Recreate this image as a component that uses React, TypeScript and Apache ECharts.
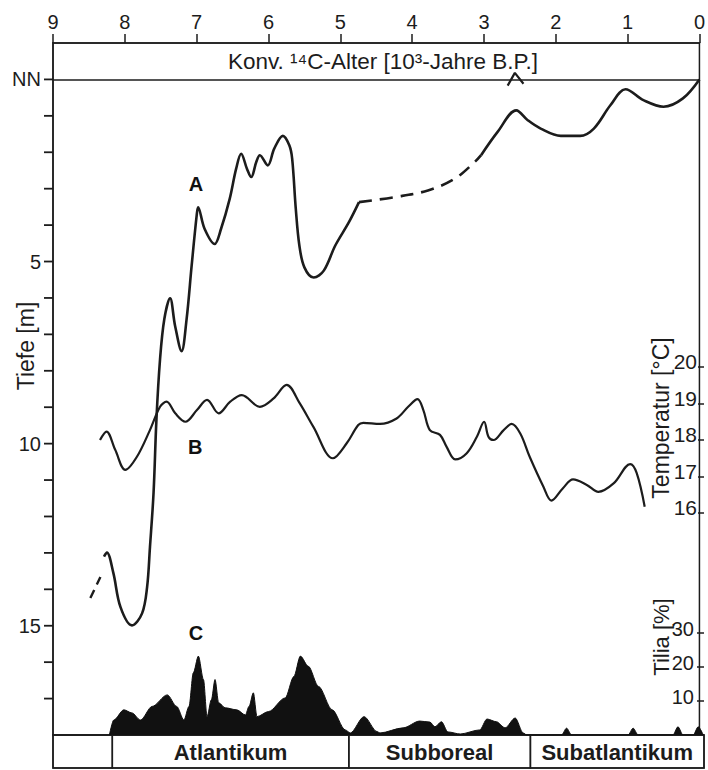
import React, { useEffect, useRef } from "react";
import * as echarts from "echarts";

// ---------- data (age in 10^3 years B.P., depth in m, temperature in °C, Tilia in %) ----------
const ageTickValues = [9, 8, 7, 6, 5, 4, 3, 2, 1, 0];
const depthLabelMap: Record<number, string> = { 0: "NN", 5: "5", 10: "10", 15: "15" };
const depthTickValues = [0, 1, 2, 3, 4, 5, 6, 7, 8, 9, 10, 11, 12, 13, 14, 15, 16, 17];
const tempTickValues = [16, 17, 18, 19, 20];
const tiliaTickValues = [10, 20, 30];

// Curve A: sea level (depth below NN)
const curveA_dashedOld: number[][] = [
  [8.48, 14.24], [8.34, 13.66],
];
const curveA_solidOld: number[][] = [
  [8.29, 13.1], [8.25, 12.99], [8.16, 13.55], [8.06, 14.49], [7.9, 14.99], [7.76, 14.66],
  [7.69, 13.94], [7.65, 12.84], [7.6, 11.35], [7.56, 9.34], [7.51, 7.69], [7.45, 6.58],
  [7.37, 6.01], [7.3, 6.77], [7.21, 7.46], [7.14, 6.58], [7.07, 5.12], [7.0, 3.74],
  [6.98, 3.51], [6.89, 4.1], [6.75, 4.52], [6.66, 4.1], [6.54, 3.28], [6.45, 2.45],
  [6.38, 2.04], [6.3, 2.45], [6.24, 2.68], [6.17, 2.27], [6.12, 2.08], [6.01, 2.36],
  [5.92, 1.9], [5.8, 1.55], [5.71, 1.81], [5.67, 2.18], [5.62, 3.55], [5.57, 4.56],
  [5.5, 5.16], [5.37, 5.44], [5.23, 5.25], [5.07, 4.56], [4.88, 3.92], [4.74, 3.37],
];
const curveA_dashedMid: number[][] = [
  [4.74, 3.37], [4.24, 3.23], [3.78, 3.05], [3.41, 2.73], [3.13, 2.27], [3.04, 2.08],
];
const curveA_solidYoung: number[][] = [
  [3.04, 2.08], [2.81, 1.44], [2.55, 0.85], [2.39, 1.12], [2.21, 1.35], [1.93, 1.55],
  [1.66, 1.55], [1.47, 1.35], [1.24, 0.71], [1.03, 0.27], [0.78, 0.57], [0.5, 0.75],
  [0.23, 0.52], [0.0, 0.0],
];
const caretMark: number[][] = [
  [2.67, 0.17], [2.57, -0.18], [2.45, 0.12],
];

// Curve B: temperature
const curveB: number[][] = [
  [8.35, 18.0], [8.26, 18.23], [8.14, 17.73], [8.0, 17.18], [7.84, 17.54], [7.66, 18.27],
  [7.52, 18.91], [7.43, 19.05], [7.31, 18.73], [7.17, 18.5], [7.01, 18.82], [6.87, 19.1],
  [6.71, 18.73], [6.55, 19.05], [6.39, 19.23], [6.14, 18.91], [5.95, 19.14], [5.77, 19.51],
  [5.59, 19.01], [5.4, 18.36], [5.13, 17.5], [4.94, 17.91], [4.78, 18.41], [4.71, 18.47],
  [4.48, 18.44], [4.25, 18.59], [4.09, 18.91], [3.96, 19.12], [3.88, 18.82], [3.79, 18.27],
  [3.65, 18.14], [3.56, 17.82], [3.44, 17.47], [3.28, 17.64], [3.14, 18.09], [3.04, 18.5],
  [2.98, 18.09], [2.91, 18.0], [2.77, 18.27], [2.66, 18.44], [2.54, 18.18], [2.41, 17.54],
  [2.22, 16.72], [2.11, 16.34], [1.95, 16.68], [1.81, 16.92], [1.62, 16.77], [1.46, 16.58],
  [1.25, 16.81], [1.02, 17.34], [0.93, 17.09], [0.82, 16.17],
];

// Curve C: Tilia pollen
const tilia: number[][] = [
  [8.22, 0], [8.16, 4.4], [8.02, 7.4], [7.91, 6.5], [7.79, 4.4], [7.63, 8.4], [7.42, 11.8],
  [7.29, 8.4], [7.19, 4.4], [7.12, 8.4], [7.06, 18.3], [6.99, 23.2], [6.92, 16.3], [6.87, 5.4],
  [6.81, 10.4], [6.76, 16.3], [6.71, 9.5], [6.62, 8.0], [6.46, 7.4], [6.34, 5.9], [6.29, 8.4],
  [6.23, 12.4], [6.18, 5.4], [6.02, 6.9], [5.79, 10.9], [5.67, 17.2], [5.58, 23.2], [5.47, 20.2],
  [5.33, 14.3], [5.14, 7.4], [4.96, 1.5], [4.89, 0.6], [4.7, 5.4], [4.52, 1.0], [4.48, 0.6],
  [4.16, 2.1], [3.93, 4.1], [3.79, 3.8], [3.72, 2.4], [3.63, 3.9], [3.54, 0.9], [3.37, 0.3],
  [3.1, 1.5], [3.0, 4.7], [2.87, 3.9], [2.75, 2.1], [2.61, 5.0], [2.5, 0.6], [2.45, 0],
  [1.97, 0], [1.9, 2.0], [1.83, 0], [1.05, 0], [0.98, 2.0], [0.91, 0], [0.43, 0], [0.36, 2.4],
  [0.29, 0], [0.15, 0], [0.08, 2.4], [0.01, 0],
];

// Periods (chronozones)
const periodNames = ["", "Atlantikum", "Subboreal", "Subatlantikum"];
const periodStarts = [9, 8.18, 4.91, 2.4];
const periodEnds = [8.18, 4.91, 2.4, 0];

// Curve labels
const curveLabelNames = ["A", "B", "C"];
const curveLabelPos: number[][] = [[7.01, 2.88], [7.02, 10.09], [7.01, 15.2]];

// ---------- chart ----------
const FONT = "'Liberation Sans', Arial, Helvetica, sans-serif";
const INK = "#1c1c1c";

function buildOption(): any {
  const hiddenX = (gridIndex: number) => ({
    type: "value", gridIndex, min: 0, max: 9, inverse: true, show: false,
    axisLine: { onZero: false },
  });
  return {
    animation: false,
    backgroundColor: "#ffffff",
    grid: [
      { left: 53, right: 4, top: 43, bottom: 35, show: true, borderColor: INK, borderWidth: 1.5, backgroundColor: "transparent" },
      { left: 53, right: 4, top: 367, bottom: 257 },
      { left: 53, right: 4, top: 633, bottom: 35 },
      { left: 53, right: 4, top: 735, bottom: 2, show: true, borderColor: INK, borderWidth: 1.5, backgroundColor: "transparent" },
    ],
    xAxis: [
      {
        type: "value", gridIndex: 0, min: 0, max: 9, interval: 1, inverse: true, position: "top",
        axisLine: { show: true, onZero: false, lineStyle: { color: INK, width: 1.5 } },
        axisTick: { show: true, inside: false, length: 9, lineStyle: { color: INK, width: 1.5 } },
        axisLabel: {
          show: true, margin: 11, fontSize: 20, color: INK, fontFamily: FONT,
          formatter: (v: number) => (ageTickValues.includes(v) ? String(v) : ""),
        },
        splitLine: { show: false },
      },
      hiddenX(1),
      hiddenX(2),
      hiddenX(3),
    ],
    yAxis: [
      {
        type: "value", gridIndex: 0, min: -1, max: 18, interval: 1, inverse: true, position: "left",
        axisLine: { show: true, onZero: false, lineStyle: { color: INK, width: 1.5 } },
        axisTick: { show: false },
        axisLabel: {
          show: true, margin: 12, fontSize: 20, color: INK, fontFamily: FONT,
          formatter: (v: number) => depthLabelMap[v] ?? "",
        },
        splitLine: { show: false },
      },
      {
        type: "value", gridIndex: 1, min: 16, max: 20, interval: 1, position: "right",
        axisLine: { show: false, onZero: false },
        axisTick: { show: true, inside: true, length: 6, lineStyle: { color: INK, width: 1.5 } },
        axisLabel: {
          show: true, inside: true, margin: 7, fontSize: 21, color: INK, fontFamily: FONT,
          align: "right", verticalAlign: "bottom", lineHeight: 11,
          formatter: (v: number) => (tempTickValues.includes(v) ? String(v) : ""),
        },
        splitLine: { show: false },
      },
      {
        type: "value", gridIndex: 2, min: 0, max: 30, interval: 10, position: "right",
        axisLine: { show: false, onZero: false },
        axisTick: { show: true, inside: true, length: 7, lineStyle: { color: INK, width: 1.5 } },
        axisLabel: {
          show: true, inside: true, margin: 10, fontSize: 20, color: INK, fontFamily: FONT,
          align: "right", verticalAlign: "bottom", lineHeight: 8,
          formatter: (v: number) => (tiliaTickValues.includes(v) ? String(v) : ""),
        },
        splitLine: { show: false },
      },
      { type: "value", gridIndex: 3, min: 0, max: 1, show: false, axisLine: { onZero: false } },
    ],
    graphic: [
      {
        type: "text", x: 383, y: 61, silent: true,
        style: {
          text: "Konv. ¹⁴C-Alter [10³-Jahre B.P.]", fill: INK, fontSize: 22.5, fontFamily: FONT,
          align: "center", verticalAlign: "middle", textAlign: "center", textVerticalAlign: "middle",
        },
      },
      {
        type: "text", x: 26, y: 346, rotation: Math.PI / 2, silent: true,
        style: {
          text: "Tiefe [m]", fill: INK, fontSize: 23, fontFamily: FONT,
          align: "center", verticalAlign: "middle", textAlign: "center", textVerticalAlign: "middle",
        },
      },
      {
        type: "text", x: 661, y: 418, rotation: Math.PI / 2, silent: true,
        style: {
          text: "Temperatur [°C]", fill: INK, fontSize: 23, fontFamily: FONT,
          align: "center", verticalAlign: "middle", textAlign: "center", textVerticalAlign: "middle",
        },
      },
      {
        type: "text", x: 661, y: 637, rotation: Math.PI / 2, silent: true,
        style: {
          text: "Tilia [%]", fill: INK, fontSize: 22, fontFamily: FONT,
          align: "center", verticalAlign: "middle", textAlign: "center", textVerticalAlign: "middle",
        },
      },
    ],
    series: [
      {
        name: "A", type: "line", xAxisIndex: 0, yAxisIndex: 0, data: curveA_solidOld,
        smooth: 0.35, symbol: "none", lineStyle: { color: INK, width: 2.6 },
        markLine: {
          silent: true, symbol: "none", label: { show: false },
          lineStyle: { color: INK, width: 1.5, type: "solid" },
          data: [{ yAxis: 0 }],
        },
      },
      {
        name: "A dashed", type: "line", xAxisIndex: 0, yAxisIndex: 0, data: curveA_dashedMid,
        smooth: 0.35, symbol: "none", lineStyle: { color: INK, width: 2.6, type: [13, 8] },
      },
      {
        name: "A young", type: "line", xAxisIndex: 0, yAxisIndex: 0, data: curveA_solidYoung,
        smooth: 0.35, symbol: "none", lineStyle: { color: INK, width: 2.6 },
      },
      {
        name: "A old dashed", type: "line", xAxisIndex: 0, yAxisIndex: 0, data: curveA_dashedOld,
        smooth: false, symbol: "none", lineStyle: { color: INK, width: 2.4, type: [9, 6] },
      },
      {
        name: "caret", type: "line", xAxisIndex: 0, yAxisIndex: 0, data: caretMark,
        smooth: false, symbol: "none", clip: false, lineStyle: { color: INK, width: 2.2 },
      },
      {
        name: "B", type: "line", xAxisIndex: 1, yAxisIndex: 1, data: curveB,
        smooth: 0.35, symbol: "none", clip: false, lineStyle: { color: INK, width: 2.2 },
      },
      {
        name: "C", type: "line", xAxisIndex: 2, yAxisIndex: 2, data: tilia,
        smooth: 0.3, smoothMonotone: "x", symbol: "none", lineStyle: { color: "#111", width: 1 },
        areaStyle: { color: "#111", opacity: 1 },
      },
      {
        name: "labels", type: "scatter", xAxisIndex: 0, yAxisIndex: 0, symbolSize: 0,
        itemStyle: { color: "#111", opacity: 1 },
        data: curveLabelPos.map((p, i) => ({ value: p, name: curveLabelNames[i] })),
        label: {
          show: true, position: "inside", formatter: "{b}", fontSize: 20, fontWeight: "bold",
          color: "#111", fontFamily: FONT, textBorderWidth: 0,
        },
      },
      {
        // depth scale tick marks on the left border, placed through the depth axis
        name: "depthTicks", type: "custom", xAxisIndex: 0, yAxisIndex: 0, clip: false, silent: true,
        data: depthTickValues.map((d) => [9, d]),
        z: 10,
        renderItem: (_params: any, api: any) => {
          const p = api.coord([api.value(0), api.value(1)]);
          return {
            type: "rect",
            shape: { x: p[0] - 9, y: p[1] - 0.9, width: 9, height: 1.8 },
            style: { fill: INK },
          };
        },
      },
      {
        name: "periods", type: "custom", xAxisIndex: 3, yAxisIndex: 3,
        data: periodStarts.map((s, i) => [s, periodEnds[i]]),
        encode: { x: [0, 1] },
        renderItem: (params: any, api: any) => {
          const s = api.value(0);
          const e = api.value(1);
          const p1 = api.coord([s, 1]);
          const p2 = api.coord([e, 0]);
          const x = Math.min(p1[0], p2[0]);
          const w = Math.abs(p2[0] - p1[0]);
          const y = Math.min(p1[1], p2[1]);
          const h = Math.abs(p2[1] - p1[1]);
          return {
            type: "group",
            children: [
              { type: "rect", shape: { x, y, width: w, height: h }, style: { fill: "none", stroke: INK, lineWidth: 1.5 } },
              {
                type: "text",
                style: {
                  text: periodNames[params.dataIndex], x: x + w / 2, y: y + h / 2 + 1,
                  align: "center", verticalAlign: "middle", textAlign: "center", textVerticalAlign: "middle",
                  fontSize: 22, fontWeight: "bold", fontFamily: FONT, fill: INK,
                },
              },
            ],
          };
        },
      },
    ],
  };
}

export default function App() {
  const ref = useRef<HTMLDivElement>(null);
  useEffect(() => {
    if (!ref.current) return;
    const chart = echarts.init(ref.current, null, { renderer: "svg" });
    chart.setOption(buildOption());
    return () => chart.dispose();
  }, []);
  return (
    <div
      ref={ref}
      style={{ position: "fixed", left: 0, top: 0, width: 708, height: 770, background: "#ffffff" }}
    />
  );
}
